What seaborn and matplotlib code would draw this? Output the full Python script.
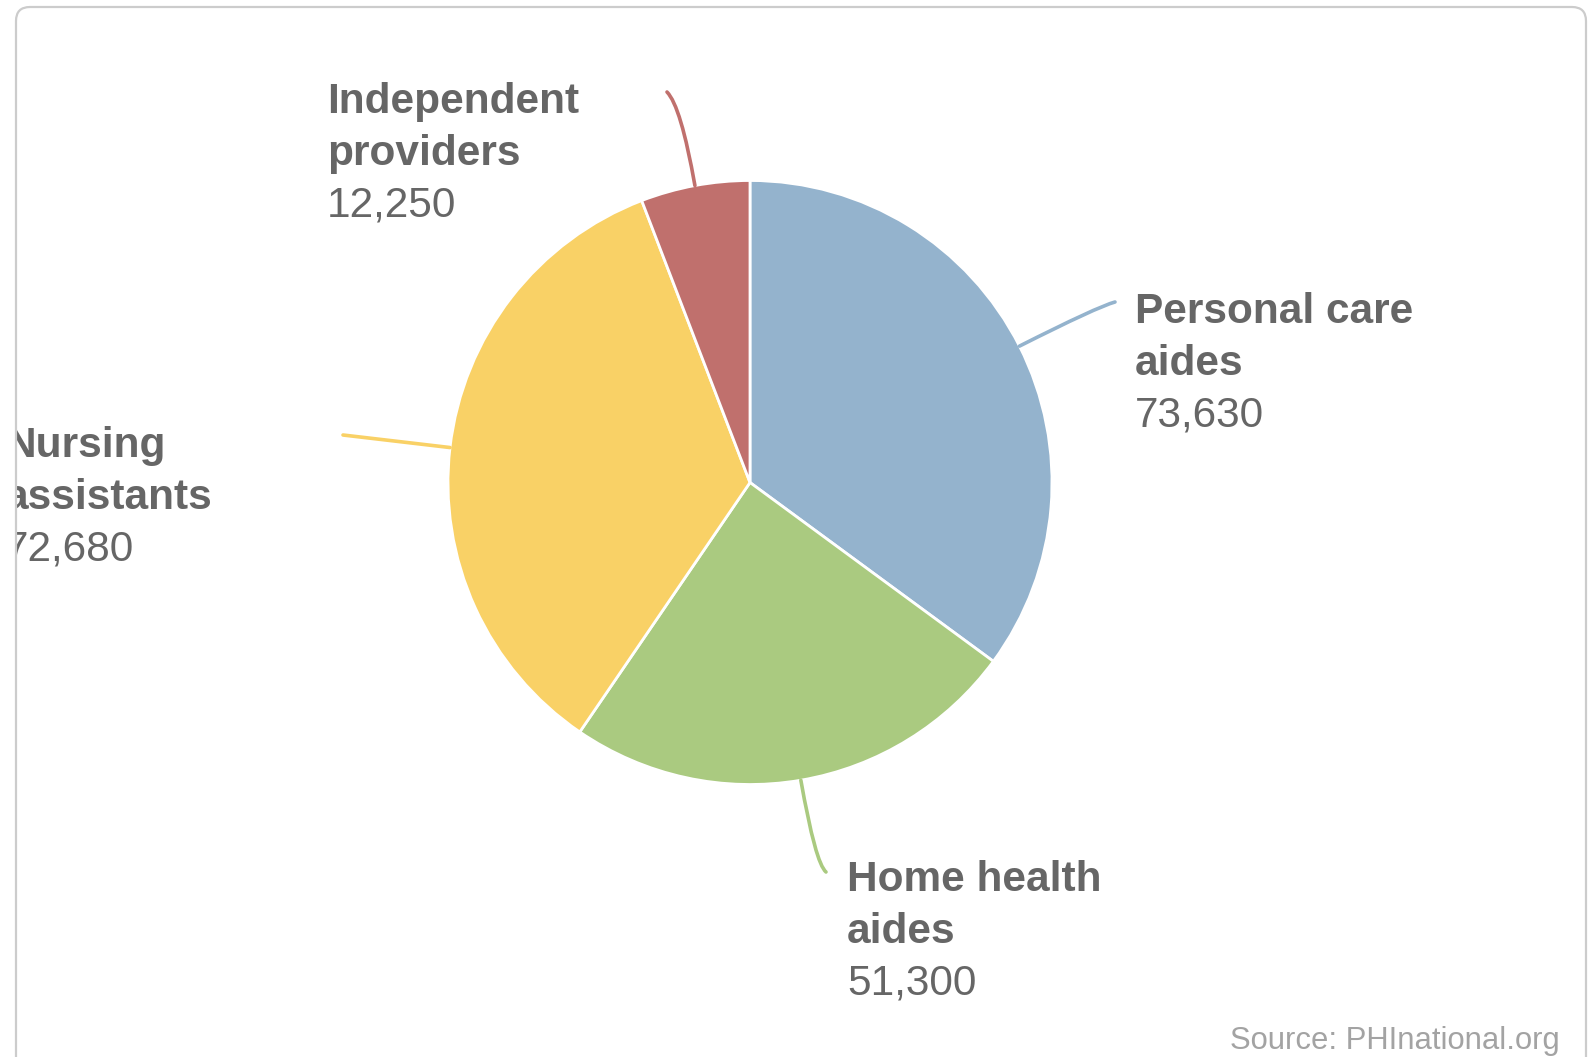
import matplotlib
matplotlib.use("Agg")
import numpy as np
import matplotlib.pyplot as plt
import seaborn as sns
from matplotlib.patches import FancyBboxPatch, Rectangle

# Direct-care workforce by occupation
categories = ["Personal care aides", "Home health aides",
              "Nursing assistants", "Independent providers"]
name_lines = [["Personal care", "aides"], ["Home health", "aides"],
              ["Nursing", "assistants"], ["Independent", "providers"]]
workers = [73630, 51300, 72680, 12250]
colors = ["#94b3cd", "#aaca80", "#f9d166", "#c0706d"]
source_note = "Source: PHInational.org"

W, H = 1589, 1057
sns.set_theme(style="white")
plt.rcParams["font.family"] = ["Liberation Sans", "DejaVu Sans"]

fig = plt.figure(figsize=(W / 100, H / 100), dpi=100)
ax = fig.add_axes([0, 0, 1, 1])

center = (750, H - 482.5)
radius = 302
wedges, _ = ax.pie(workers, colors=colors, startangle=90, counterclock=False,
                   radius=radius, center=center,
                   wedgeprops=dict(edgecolor="white", linewidth=2))
ax.set_aspect("auto")
ax.set_xlim(0, W)
ax.set_ylim(0, H)
ax.axis("off")

# label placement: leader end point, text origin x, first baseline, connector
layout = [
    dict(end=(1115, 302), x=1135, y=323, conn="angle3,angleA=15,angleB=26.8"),
    dict(end=(826, 872), x=847, y=891, conn="angle3,angleA=-40,angleB=-80"),
    dict(end=(343, 435), x=5, y=457, conn="arc3,rad=0"),
    dict(end=(667, 92), x=327, y=113, conn="angle3,angleA=135,angleB=100"),
]
line_gap = 52
fs = 30.5
txt_color = "#666666"

for w, lines, val, c, lay in zip(wedges, name_lines, workers, colors, layout):
    mid = np.deg2rad((w.theta1 + w.theta2) / 2)
    edge = (center[0] + radius * np.cos(mid), center[1] + radius * np.sin(mid))
    end = (lay["end"][0], H - lay["end"][1])
    ax.annotate("", xy=edge, xytext=end,
                arrowprops=dict(arrowstyle="-", color=c, lw=2.6,
                                shrinkA=0, shrinkB=0,
                                connectionstyle=lay["conn"]))
    y0 = H - lay["y"]
    for k, ln in enumerate(lines):
        ax.text(lay["x"], y0 - k * line_gap, ln, fontsize=fs,
                fontweight="bold", color=txt_color,
                ha="left", va="baseline", zorder=3)
    ax.text(lay["x"], y0 - len(lines) * line_gap, f"{val:,}",
            fontsize=fs, color=txt_color, ha="left", va="baseline", zorder=3)

ax.text(1560, H - 1049, source_note, fontsize=22.3, color="#a3a3a3",
        ha="right", va="baseline")

# blank margin outside the frame, hiding anything that spills past it
ax.add_patch(Rectangle((0, 0), 16.5, H, facecolor="white", edgecolor="none",
                       zorder=4))

# outer frame with rounded corners (bottom edge runs off the canvas)
frame = FancyBboxPatch((16, -30), 1570, H - 7 + 30,
                       boxstyle="round,pad=0,rounding_size=14",
                       facecolor="none", edgecolor="#cccccc", linewidth=1.6,
                       zorder=5)
ax.add_patch(frame)

fig.savefig("out.png", dpi=100, facecolor="white")
